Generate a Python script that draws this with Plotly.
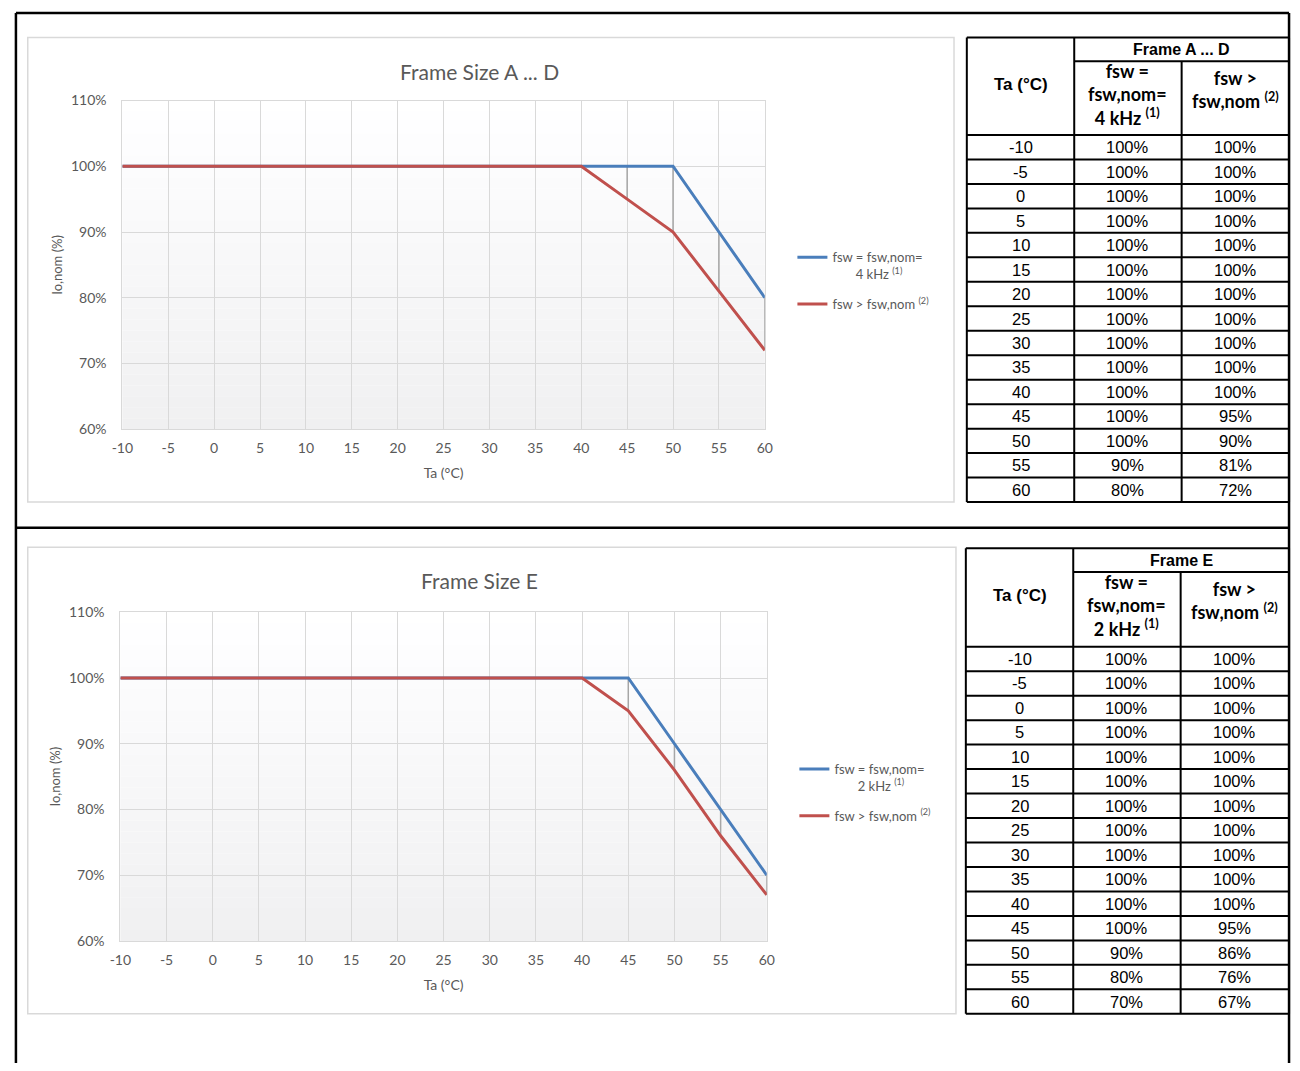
import plotly.graph_objects as go

W, H = 1300, 1071

# ---- data ----
ta = [-10, -5, 0, 5, 10, 15, 20, 25, 30, 35, 40, 45, 50, 55, 60]

ad_nom = [100, 100, 100, 100, 100, 100, 100, 100, 100, 100, 100, 100, 100, 90, 80]
ad_high = [100, 100, 100, 100, 100, 100, 100, 100, 100, 100, 100, 95, 90, 81, 72]

e_nom = [100, 100, 100, 100, 100, 100, 100, 100, 100, 100, 100, 100, 90, 80, 70]
e_high = [100, 100, 100, 100, 100, 100, 100, 100, 100, 100, 100, 95, 86, 76, 67]

y_ticks = [0.6, 0.7, 0.8, 0.9, 1.0, 1.1]
x_ticks = ta
x_ticktext = [str(t) for t in x_ticks]

BLUE = "#4a7ebb"
RED = "#c0504d"
GRID = "#d9d9d9"
TXT = "#595959"
CHART_FONT = "Lato"
TABLE_FONT = "Liberation Sans"
NB = "\u00a0"


def px(x):
    return x / W


def py(y):
    return 1 - y / H


fig = go.Figure()
shapes = []
annotations = []


def add_chart(n, temps, nom, high, nom_name, plot_box, frame_box, title, title_y, legend_xy):
    xa = "x" if n == 1 else f"x{n}"
    ya = "y" if n == 1 else f"y{n}"
    leg = "legend" if n == 1 else f"legend{n}"

    # high-low drop lines between the two series
    dx, dy = [], []
    for t, a, b in zip(temps, nom, high):
        if a != b:
            dx += [t, t, None]
            dy += [a / 100, b / 100, None]
    fig.add_trace(go.Scatter(x=dx, y=dy, mode="lines", line=dict(color="#a6a6a6", width=1.5),
                             showlegend=False, hoverinfo="skip", xaxis=xa, yaxis=ya))
    fig.add_trace(go.Scatter(x=temps, y=[v / 100 for v in nom], mode="lines", name=nom_name,
                             line=dict(color=BLUE, width=3), xaxis=xa, yaxis=ya, legend=leg,
                             legendgroup=f"a{n}"))
    fig.add_trace(go.Scatter(x=temps, y=[v / 100 for v in high], mode="lines",
                             name="fsw > fsw,nom <sup>(2)</sup>",
                             line=dict(color=RED, width=3), xaxis=xa, yaxis=ya, legend=leg,
                             legendgroup=f"b{n}"))

    l, t, r, b = plot_box
    axis_common = dict(showgrid=True, gridcolor=GRID, gridwidth=1, zeroline=False,
                       showline=True, linecolor=GRID, mirror=True,
                       tickfont=dict(family=CHART_FONT, size=14, color=TXT),
                       ticks="", fixedrange=True)
    fig.layout[f"xaxis{'' if n == 1 else n}"] = dict(
        axis_common, domain=[px(l), px(r)], range=[-10, 60], tickmode="array",
        tickvals=x_ticks, ticktext=x_ticktext, anchor=ya, ticklabelstandoff=6,
        title=dict(text="Ta (°C)", font=dict(family=CHART_FONT, size=14, color=TXT), standoff=13))
    fig.layout[f"yaxis{'' if n == 1 else n}"] = dict(
        axis_common, domain=[py(b), py(t)], range=[0.6, 1.1], tickmode="array",
        tickvals=y_ticks, tickformat=".0%", anchor=xa, ticklabelstandoff=12,
        title=dict(text="Io,nom (%)", font=dict(family=CHART_FONT, size=13, color=TXT), standoff=5))

    # soft vertical gradient in the plot area
    bands = 30
    for i in range(bands):
        g = round(255 - 15 * (i + 0.5) / bands)
        shapes.append(dict(type="rect", xref=f"{xa} domain", yref=f"{ya} domain",
                           x0=0, x1=1, y0=1 - (i + 1) / bands, y1=1 - i / bands,
                           fillcolor=f"rgb({g},{g},{min(g + 1, 255)})",
                           line=dict(width=0), layer="below"))

    fl, ft, fr, fb = frame_box
    shapes.append(dict(type="rect", xref="paper", yref="paper", x0=px(fl), x1=px(fr),
                       y0=py(fb), y1=py(ft), line=dict(color=GRID, width=1.5)))
    annotations.append(dict(text=title, xref="paper", yref="paper", x=px(475), y=py(title_y),
                            xanchor="center", yanchor="middle", showarrow=False,
                            font=dict(family=CHART_FONT, size=21, color=TXT)))

    fig.layout[leg] = dict(x=px(legend_xy[0]), y=py(legend_xy[1]), xanchor="left", yanchor="top",
                           bgcolor="rgba(0,0,0,0)", valign="top", tracegroupgap=10,
                           itemwidth=30, font=dict(family=CHART_FONT, size=13, color=TXT))


add_chart(1, ta, ad_nom, ad_high,
          "fsw = fsw,nom=<br>" + NB * 7 + "4 kHz <sup>(1)</sup>",
          (113, 93, 765, 427), (17, 29, 957, 501), "Frame Size A ... D", 64, (793, 237))
add_chart(2, ta, e_nom, e_high,
          "fsw = fsw,nom=<br>" + NB * 7 + "2 kHz <sup>(1)</sup>",
          (111, 613, 767, 947), (17, 547, 959, 1021), "Frame Size E", 581, (795, 757))


def line(x0, y0, x1, y1, w=2):
    shapes.append(dict(type="line", xref="paper", yref="paper", x0=px(x0), x1=px(x1),
                       y0=py(y0), y1=py(y1), line=dict(color="black", width=w)))


def text(x, y, s, bold=False, size=16.5, family=TABLE_FONT):
    if bold:
        s = f"<b>{s}</b>"
    annotations.append(dict(text=s, xref="paper", yref="paper", x=px(x), y=py(y),
                            showarrow=False, xanchor="center", yanchor="middle",
                            font=dict(family=family, size=size, color="black")))


def add_table(cols, top, h1, h2, bottom, frame_label, nom_label, temps, nom, high):
    n = len(temps)
    row_h = (bottom - h2) / n
    # grid lines
    line(cols[0], top, cols[-1], top)
    line(cols[0], bottom, cols[-1], bottom)
    for c in (cols[0], cols[1], cols[-1]):
        line(c, top, c, bottom)
    line(cols[2], h1, cols[2], bottom)
    line(cols[1], h1, cols[-1], h1)
    for i in range(n):
        line(cols[0], h2 + i * row_h, cols[-1], h2 + i * row_h)
    # header
    centers = [(cols[i] + cols[i + 1]) / 2 for i in range(3)]
    text((cols[1] + cols[-1]) / 2, (top + h1) / 2, frame_label, bold=True, size=16)
    text(centers[0], (top + h2) / 2 - 2, "Ta (°C)", bold=True, size=17)
    text(centers[1], (h1 + h2) / 2 - 3.5, nom_label, bold=True, size=18, family="Lato")
    text(centers[2], (h1 + h2) / 2 - 9, "fsw ><br>fsw,nom <sup>(2)</sup>", bold=True, size=18,
         family="Lato")
    # body
    for i in range(n):
        yc = h2 + (i + 0.5) * row_h
        text(centers[0], yc, str(temps[i]))
        text(centers[1], yc, f"{nom[i]}%")
        text(centers[2], yc, f"{high[i]}%")


add_table([970, 1079, 1188, 1297], 29, 53, 128, 501, "Frame A ... D",
          "fsw =<br>fsw,nom=<br>4 kHz <sup>(1)</sup>", ta, ad_nom, ad_high)
add_table([969, 1078, 1187, 1297], 548, 572, 648, 1021, "Frame E",
          "fsw =<br>fsw,nom=<br>2 kHz <sup>(1)</sup>", ta, e_nom, e_high)

# outer page frame
line(5, 4, 1297, 4, 2.5)
line(5, 4, 5, 1071, 2.5)
line(1297, 4, 1297, 1071, 2.5)
line(5, 527, 1297, 527, 2.5)

fig.update_layout(
    width=W, height=H,
    margin=dict(l=0, r=0, t=0, b=0),
    paper_bgcolor="white", plot_bgcolor="white",
    shapes=shapes, annotations=annotations,
    showlegend=True,
)

fig.write_html("out.html", post_script="document.body.style.margin='0';",
               config={"displayModeBar": False})
